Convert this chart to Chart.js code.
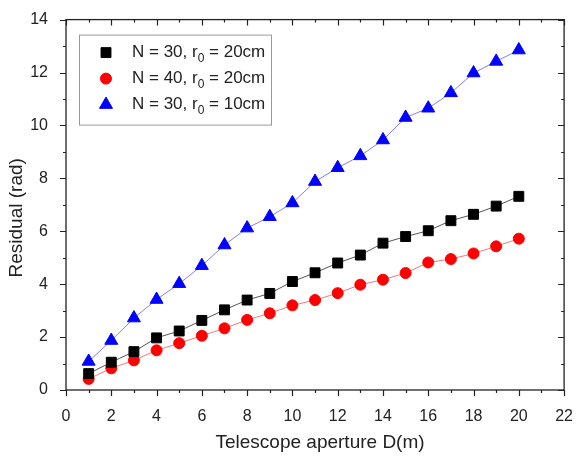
<!DOCTYPE html>
<html>
<head>
<meta charset="utf-8">
<script src="https://cdn.jsdelivr.net/npm/chart.js@4.4.1/dist/chart.umd.min.js"></script>
<style>
  html, body { margin: 0; padding: 0; background: #fff; }
  #wrap { width: 582px; height: 458px; }
</style>
</head>
<body>
<div id="wrap"><canvas id="residual-chart"></canvas></div>
<script>
// Chart data
const apertures = [1, 2, 3, 4, 5, 6, 7, 8, 9, 10, 11, 12, 13, 14, 15, 16, 17, 18, 19, 20];
const n30r20 = [0.62, 1.05, 1.45, 1.97, 2.23, 2.63, 3.03, 3.4, 3.65, 4.1, 4.43, 4.8, 5.1, 5.55, 5.8, 6.02, 6.4, 6.64, 6.95, 7.32];
const n40r20 = [0.42, 0.82, 1.12, 1.5, 1.77, 2.05, 2.33, 2.65, 2.9, 3.2, 3.4, 3.66, 3.98, 4.17, 4.42, 4.82, 4.95, 5.16, 5.43, 5.72];
const n30r10 = [1.08, 1.87, 2.72, 3.42, 4.02, 4.7, 5.48, 6.12, 6.55, 7.07, 7.88, 8.4, 8.85, 9.45, 10.3, 10.65, 11.23, 11.98, 12.42, 12.85];
const seriesLabels = ['N = 30, r₀ = 20cm', 'N = 40, r₀ = 20cm', 'N = 30, r₀ = 10cm'];
const xTicks = [0, 2, 4, 6, 8, 10, 12, 14, 16, 18, 20, 22];
const yTicks = [0, 2, 4, 6, 8, 10, 12, 14];
const xTitle = 'Telescope aperture D(m)';
const yTitle = 'Residual (rad)';

const FONT = "'Liberation Sans', Arial, sans-serif";
const TEXT = '#222';

function toPoints(values) {
    return values.map((v, i) => ({ x: apertures[i], y: v }));
}

function series(label, values, color, lineColor, style, radius) {
    return {
        label: label,
        data: toPoints(values),
        borderColor: lineColor,
        borderWidth: 1,
        backgroundColor: color,
        pointStyle: style,
        pointRadius: radius,
        pointHoverRadius: radius,
        pointBackgroundColor: color,
        pointBorderColor: color,
        pointBorderWidth: 1,
        tension: 0
    };
}

// Box around the plot, with Origin-style ticks on all four sides
const framePlugin = {
    id: 'frame',
    afterDraw(chart) {
        const { ctx, chartArea: a, scales } = chart;
        const x = scales.x, y = scales.y;
        ctx.save();
        ctx.strokeStyle = '#222';
        ctx.lineWidth = 1.3;
        ctx.strokeRect(a.left, a.top, a.right - a.left, a.bottom - a.top);
        ctx.lineWidth = 1.2;
        ctx.beginPath();
        for (let v = x.min; v <= x.max; v++) {
            const px = Math.round(x.getPixelForValue(v)) + 0.5;
            const len = v % 2 === 0 ? 6 : 3;
            ctx.moveTo(px, a.bottom); ctx.lineTo(px, a.bottom + len);
            ctx.moveTo(px, a.top); ctx.lineTo(px, a.top + len);
        }
        for (let v = y.min; v <= y.max; v++) {
            const py = Math.round(y.getPixelForValue(v)) + 0.5;
            const len = v % 2 === 0 ? 6 : 3;
            ctx.moveTo(a.left, py); ctx.lineTo(a.left - len, py);
            ctx.moveTo(a.right, py); ctx.lineTo(a.right - len, py);
        }
        ctx.stroke();

        // axis titles
        ctx.fillStyle = TEXT;
        ctx.font = '19px ' + FONT;
        ctx.textAlign = 'center';
        ctx.textBaseline = 'middle';
        ctx.fillText(xTitle, (a.left + a.right) / 2 + 5, 443);
        ctx.translate(17, (a.top + a.bottom) / 2 + 13);
        ctx.rotate(-Math.PI / 2);
        ctx.fillText(yTitle, 0, 0);
        ctx.restore();
    }
};

// Legend inside the plot, with a real subscript for r0
const legendPlugin = {
    id: 'insideLegend',
    afterDraw(chart) {
        const { ctx, chartArea: a } = chart;
        const left = a.left + 13, top = a.top + 15;
        const w = 192, h = 90, row = 26;
        ctx.save();
        ctx.fillStyle = '#fff';
        ctx.fillRect(left, top, w, h);
        ctx.strokeStyle = '#999';
        ctx.lineWidth = 1;
        ctx.strokeRect(left + 0.5, top + 0.5, w, h);
        chart.data.datasets.forEach((ds, i) => {
            const cy = top + 18 + i * row;
            ctx.fillStyle = ds.pointBackgroundColor;
            ctx.strokeStyle = ds.pointBorderColor;
            ctx.lineWidth = 1;
            Chart.helpers.drawPoint(ctx, { pointStyle: ds.pointStyle, radius: ds.pointRadius, borderWidth: 1 }, left + 27, cy);
            const parts = ds.label.split('₀');
            let tx = left + 53;
            ctx.fillStyle = TEXT;
            ctx.textBaseline = 'middle';
            ctx.font = '17px ' + FONT;
            ctx.fillText(parts[0], tx, cy);
            tx += ctx.measureText(parts[0]).width;
            ctx.font = '12px ' + FONT;
            ctx.fillText('0', tx, cy + 6);
            tx += ctx.measureText('0').width;
            ctx.font = '17px ' + FONT;
            ctx.fillText(parts[1], tx, cy);
        });
        ctx.restore();
    }
};

const config = {
    type: 'line',
    data: {
        datasets: [
            series(seriesLabels[0], n30r20, '#000000', '#555555', 'rect', 7),
            series(seriesLabels[1], n40r20, '#ff0000', '#f07a7a', 'circle', 5.5),
            series(seriesLabels[2], n30r10, '#0000ff', '#8080f0', 'triangle', 7.5)
        ]
    },
    options: {
        responsive: true,
        maintainAspectRatio: false,
        animation: false,
        layout: { padding: { top: 12, right: 10, left: 0, bottom: 0 } },
        plugins: {
            legend: { display: false },
            tooltip: { enabled: false }
        },
        scales: {
            x: {
                type: 'linear',
                min: 0,
                max: 22,
                afterBuildTicks: s => { s.ticks = xTicks.map(v => ({ value: v })); },
                afterFit: s => { s.height = 68; },
                grid: { display: false },
                border: { display: false },
                ticks: { color: TEXT, font: { family: FONT, size: 16 }, padding: 9, maxRotation: 0 }
            },
            y: {
                type: 'linear',
                min: 0,
                max: 14,
                afterBuildTicks: s => { s.ticks = yTicks.map(v => ({ value: v })); },
                afterFit: s => { s.width = 66; },
                grid: { display: false },
                border: { display: false },
                ticks: { color: TEXT, font: { family: FONT, size: 16 }, padding: 10 }
            }
        }
    },
    plugins: [framePlugin, legendPlugin]
};

window.onload = function () {
    const ctx = document.getElementById('residual-chart').getContext('2d');
    new Chart(ctx, config);
};
</script>
</body>
</html>
